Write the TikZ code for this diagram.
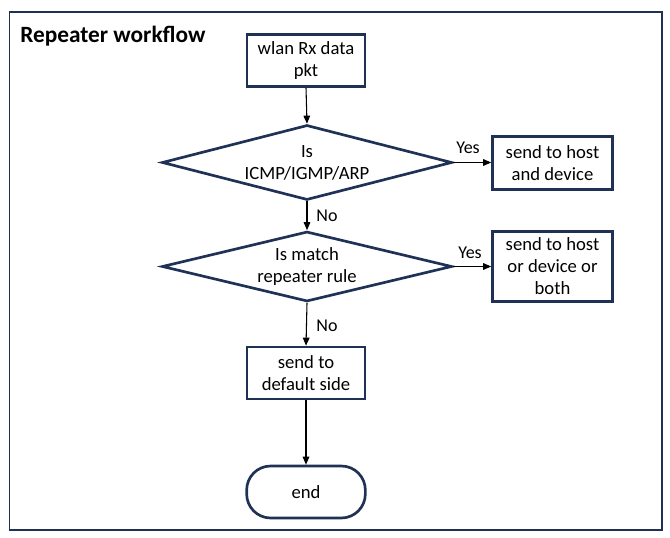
\documentclass[tikz,border=0pt]{standalone}
\usepackage{fontspec}
\setmainfont{Carlito}
\usetikzlibrary{shapes.geometric,arrows.meta}
\definecolor{navy}{RGB}{31,50,86}
\tikzset{
  stepbox/.style={draw=navy,line width=2pt,align=center,inner sep=0pt,
    font=\fontsize{14}{16.5}\selectfont},
  decision/.style={diamond,aspect=3.87,draw=navy,line width=2pt,align=center,inner sep=0pt,
    font=\fontsize{14}{16.5}\selectfont},
  lbl/.style={font=\fontsize{13.5}{16}\selectfont,inner sep=0pt},
  flow/.style={draw=black,line width=0.8pt,-{Triangle[length=6pt,width=5pt]}}
}
\begin{document}
\begin{tikzpicture}[x=0.75pt,y=-0.75pt]
\useasboundingbox (0,0) rectangle (670,538);
\draw[navy,line width=1.1pt] (9.5,12) rectangle (662,530);
\node[anchor=base west,font=\fontsize{17.5}{20}\selectfont\bfseries,inner sep=0pt] (title) at (20,43) {Repeater workflow};
\node[stepbox,minimum width=88.5pt,minimum height=39pt] (b1) at (306,60.5) {wlan Rx data\\pkt};
\node[decision,minimum width=217.5pt,minimum height=56.25pt] (d1) at (307,162.5) {Is\\ICMP/IGMP/ARP};
\node[stepbox,minimum width=90pt,minimum height=39.75pt] (r1) at (552.5,163) {send to host\\and device};
\node[decision,minimum width=217.5pt,minimum height=52.5pt] (d2) at (307,266.5) {Is match\\repeater rule};
\node[stepbox,minimum width=90pt,minimum height=52.5pt] (r2) at (552.5,266.5) {send to host\\or device or\\both};
\node[stepbox,minimum width=88.5pt,minimum height=39pt] (b3) at (306,373) {send to\\default side};
\node[stepbox,rounded corners=18pt,minimum width=89pt,minimum height=39pt] (e) at (306,492) {end};
\draw[flow] (b1.south) -- (d1.north);
\draw[flow] (d1.east) -- (d1.east -| r1.west);
\draw[flow] (d1.south) -- (d2.north);
\draw[flow] (d2.east) -- (d2.east -| r2.west);
\draw[flow] (d2.south) -- (b3.north);
\draw[flow] (b3.south) -- (e.north);
\node[lbl] (y1) at (468,148) {Yes};
\node[lbl] (y2) at (470,253) {Yes};
\node[lbl] (n1) at (327,215.5) {No};
\node[lbl] (n2) at (327,326) {No};
\end{tikzpicture}
\end{document}
